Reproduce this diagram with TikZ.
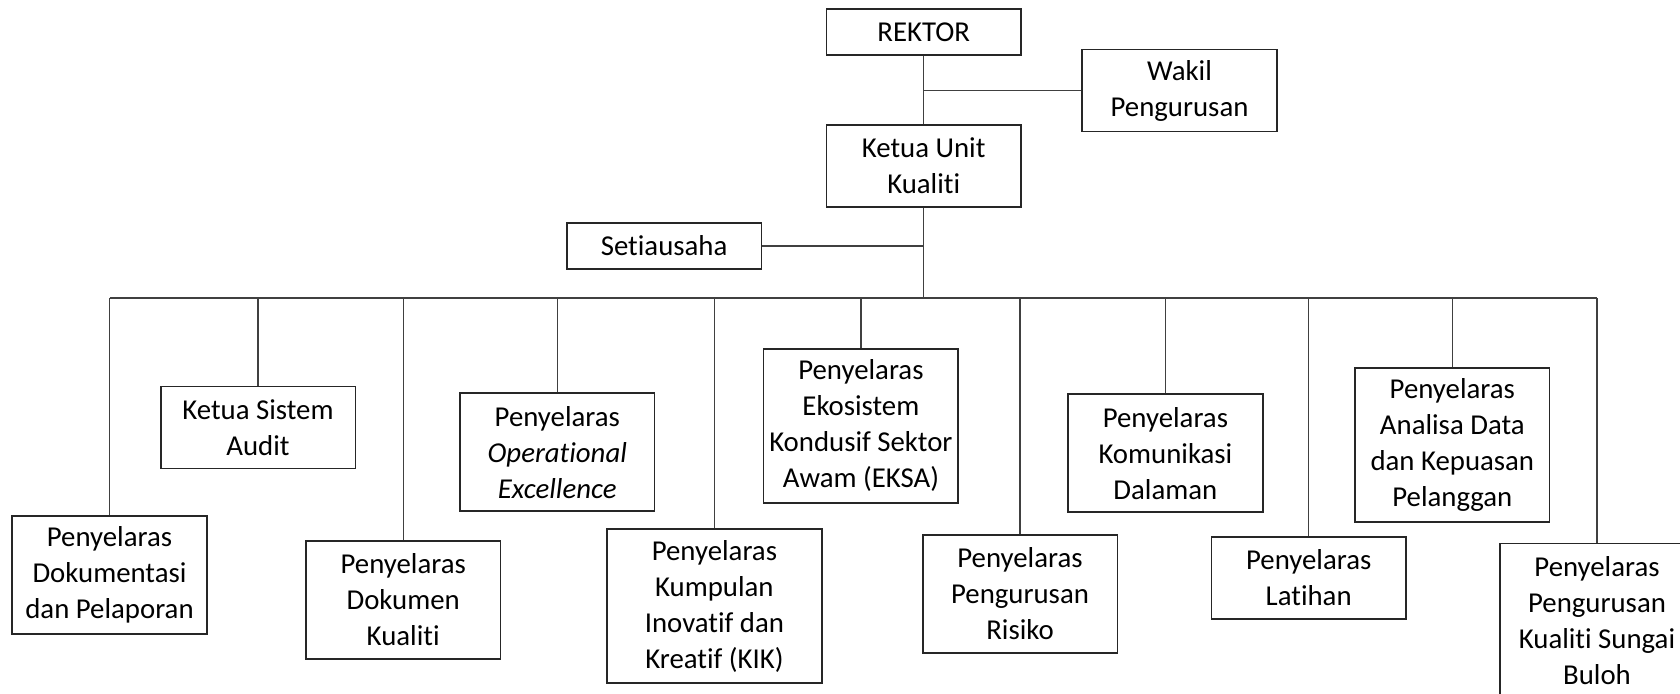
\documentclass[tikz,border=0pt]{standalone}
\usepackage{fontspec}
\setmainfont[Ligatures=NoCommon]{Carlito}
\usepackage{tikz}
\usetikzlibrary{positioning, calc}

\begin{document}
\begin{tikzpicture}[
  x=0.5pt, y=-0.5pt,
  ubox/.style={draw=black!85, line width=0.8pt, minimum width=97.3pt, inner sep=0pt, align=center, font=\fontsize{14.4}{18}\selectfont},
  rows/.style={minimum height={5pt+18pt*#1}},
  link/.style={draw=black!75, line width=0.6pt}
]
  \useasboundingbox (0,0) rectangle (1680,694);

  \node[ubox, rows=1] (rektor) at (923.7, 32.2) {REKTOR};
  \node[ubox, rows=2] (wakil) at (1179.5, 90.5) {Wakil\\Pengurusan};
  \node[ubox, rows=2] (ketua) at (923.7, 166) {Ketua Unit\\Kualiti};
  \node[ubox, rows=1] (setia) at (664.1, 246) {Setiausaha};
  \coordinate (bus) at (923.7, 298);

  \node[ubox, rows=3] (dokumentasi) at (109.5, 574.9) {Penyelaras\\Dokumentasi\\dan Pelaporan};
  \node[ubox, rows=2] (audit) at (258, 427.5) {Ketua Sistem\\Audit};
  \node[ubox, rows=3] (dokumen) at (403.2, 599.7) {Penyelaras\\Dokumen\\Kualiti};
  \node[ubox, rows=3] (opex) at (557.3, 452.2) {Penyelaras\\\textit{Operational}\\\textit{Excellence}};
  \node[ubox, rows=4, minimum width=107.4pt] (kik) at (714.4, 606.2) {Penyelaras\\Kumpulan\\Inovatif dan\\Kreatif (KIK)};
  \node[ubox, rows=4] (eksa) at (860.9, 425.9) {Penyelaras\\Ekosistem\\Kondusif Sektor\\Awam (EKSA)};
  \node[ubox, rows=3] (risiko) at (1020, 593.9) {Penyelaras\\Pengurusan\\Risiko};
  \node[ubox, rows=3] (komunikasi) at (1165.4, 453.3) {Penyelaras\\Komunikasi\\Dalaman};
  \node[ubox, rows=2] (latihan) at (1308.7, 577.9) {Penyelaras\\Latihan};
  \node[ubox, rows=4] (analisa) at (1452.3, 445.3) {Penyelaras\\Analisa Data\\dan Kepuasan\\Pelanggan};
  \node[ubox, rows=4] (buloh) at (1597, 620.3) {Penyelaras\\Pengurusan\\Kualiti Sungai\\Buloh};

  \draw[link] (rektor) -- (ketua);
  \draw[link] (wakil.west) -- (wakil.west -| rektor.south);
  \draw[link] (setia.east) -- (setia.east -| ketua.south);
  \draw[link] (ketua) -- (bus);
  \draw[link] (dokumentasi |- bus) -- (buloh |- bus);

  \draw[link] (dokumentasi) -- (dokumentasi |- bus);
  \draw[link] (audit) -- (audit |- bus);
  \draw[link] (dokumen) -- (dokumen |- bus);
  \draw[link] (opex) -- (opex |- bus);
  \draw[link] (kik) -- (kik |- bus);
  \draw[link] (eksa) -- (eksa |- bus);
  \draw[link] (risiko) -- (risiko |- bus);
  \draw[link] (komunikasi) -- (komunikasi |- bus);
  \draw[link] (latihan) -- (latihan |- bus);
  \draw[link] (analisa) -- (analisa |- bus);
  \draw[link] (buloh) -- (buloh |- bus);
\end{tikzpicture}
\end{document}
